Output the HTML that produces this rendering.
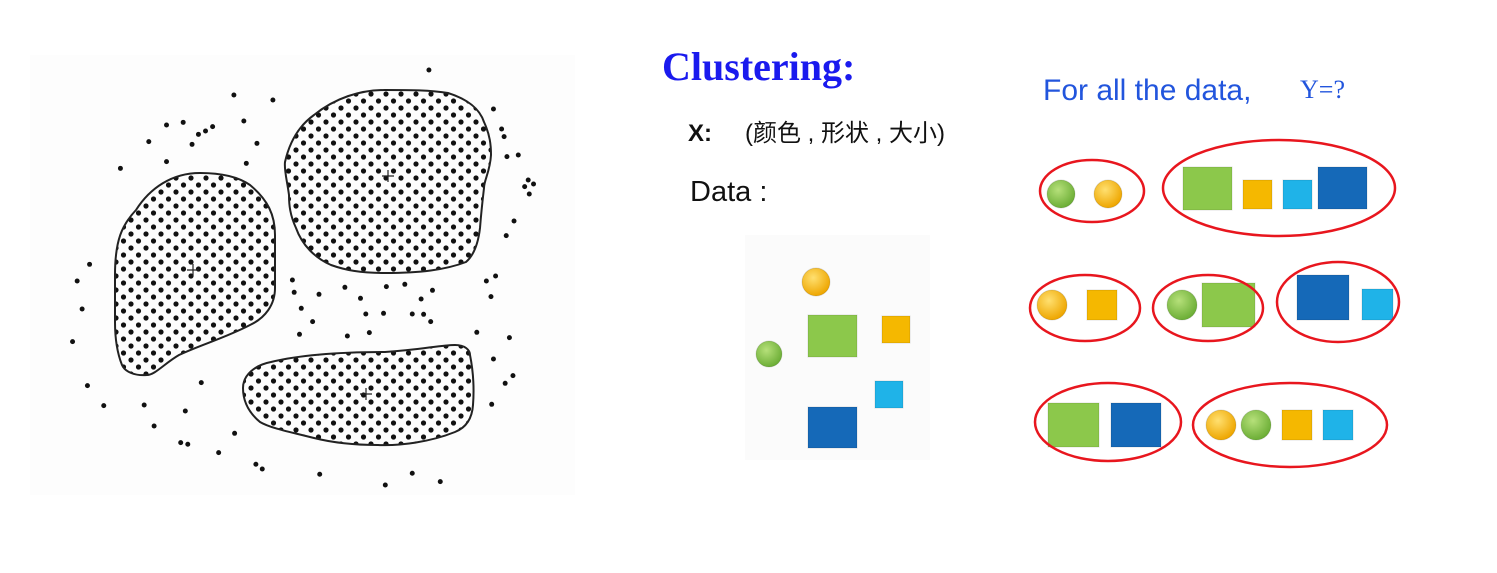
<!DOCTYPE html>
<html><head><meta charset="utf-8"><style>
html,body{margin:0;padding:0;background:#fff;}
body{width:1497px;height:573px;overflow:hidden;position:relative;}
</style></head><body>
<svg width="1497" height="573" viewBox="0 0 1497 573" xmlns="http://www.w3.org/2000/svg" style="position:absolute;left:0;top:0">
<defs>
<pattern id="dots" x="0" y="0" width="15" height="14" patternUnits="userSpaceOnUse">
<circle cx="3.5" cy="3" r="2.6" fill="#111"/>
<circle cx="11" cy="10" r="2.6" fill="#111"/>
</pattern>
<radialGradient id="gy" cx="40%" cy="35%" r="65%"><stop offset="0" stop-color="#ffe070"/><stop offset="1" stop-color="#eea600"/></radialGradient>
<radialGradient id="gg" cx="40%" cy="35%" r="65%"><stop offset="0" stop-color="#b6e07a"/><stop offset="1" stop-color="#6cae36"/></radialGradient>
</defs>
<rect x="30" y="55" width="545" height="440" fill="#fdfdfd"/>
<g stroke="#222" stroke-width="2" fill="url(#dots)">
<path d="M115,275 C115,240 122,225 136,210 C150,188 172,173 200,173 C225,173 240,178 250,185 C268,200 275,215 275,235 L275,288 C275,305 265,318 250,325 C225,338 200,345 179,355 C165,363 155,375 147,375 C135,376 125,372 122,365 C116,350 115,335 115,322 Z"/>
<path d="M285,162 C290,140 300,125 314,115 C335,98 360,90 385,90 C410,90 430,90 448,93 C470,100 480,110 484,122 C490,135 491,145 491,155 C490,172 484,180 484,188 C482,205 481,215 480,228 C478,245 473,256 466,262 C445,270 420,273 385,273 C360,273 345,270 331,265 C315,258 302,245 296,228 C290,215 289,205 289,195 C287,180 284,170 285,162 Z"/>
<path d="M243,388 C243,375 255,365 271,362 C300,355 340,352 385,352 C420,350 440,345 455,345 C465,345 470,350 470,355 C474,375 474,392 473,405 C472,420 465,428 455,432 C430,442 400,446 378,445 C350,445 330,442 314,438 C290,432 270,428 260,422 C248,412 243,400 243,388 Z"/>
</g>
<g stroke="#222" stroke-width="1.2">
<path d="M187,270 h12 M193,264 v12"/><path d="M382,176 h12 M388,170 v12"/><path d="M360,394 h12 M366,388 v12"/>
</g>
<g transform="translate(30,55) scale(0.3546,0.3333)" fill="#111">
<ellipse cx="1125" cy="45" rx="7" ry="7.5"/><ellipse cx="575" cy="120" rx="7" ry="7.5"/><ellipse cx="685" cy="135" rx="7" ry="7.5"/><ellipse cx="385" cy="210" rx="7" ry="7.5"/><ellipse cx="432" cy="202" rx="7" ry="7.5"/><ellipse cx="475" cy="238" rx="7" ry="7.5"/><ellipse cx="495" cy="228" rx="7" ry="7.5"/><ellipse cx="515" cy="215" rx="7" ry="7.5"/><ellipse cx="603" cy="198" rx="7" ry="7.5"/><ellipse cx="335" cy="260" rx="7" ry="7.5"/><ellipse cx="457" cy="268" rx="7" ry="7.5"/><ellipse cx="640" cy="265" rx="7" ry="7.5"/><ellipse cx="385" cy="320" rx="7" ry="7.5"/><ellipse cx="610" cy="325" rx="7" ry="7.5"/><ellipse cx="255" cy="340" rx="7" ry="7.5"/><ellipse cx="1307" cy="162" rx="7" ry="7.5"/><ellipse cx="1330" cy="222" rx="7" ry="7.5"/><ellipse cx="1337" cy="245" rx="7" ry="7.5"/><ellipse cx="1345" cy="305" rx="7" ry="7.5"/><ellipse cx="1377" cy="300" rx="7" ry="7.5"/><ellipse cx="1405" cy="375" rx="7" ry="7.5"/><ellipse cx="1395" cy="395" rx="7" ry="7.5"/><ellipse cx="1420" cy="387" rx="7" ry="7.5"/><ellipse cx="1408" cy="417" rx="7" ry="7.5"/><ellipse cx="1365" cy="498" rx="7" ry="7.5"/><ellipse cx="1343" cy="542" rx="7" ry="7.5"/><ellipse cx="168" cy="628" rx="7" ry="7.5"/><ellipse cx="133" cy="678" rx="7" ry="7.5"/><ellipse cx="147" cy="762" rx="7" ry="7.5"/><ellipse cx="120" cy="860" rx="7" ry="7.5"/><ellipse cx="740" cy="675" rx="7" ry="7.5"/><ellipse cx="745" cy="712" rx="7" ry="7.5"/><ellipse cx="815" cy="718" rx="7" ry="7.5"/><ellipse cx="888" cy="697" rx="7" ry="7.5"/><ellipse cx="932" cy="730" rx="7" ry="7.5"/><ellipse cx="1005" cy="695" rx="7" ry="7.5"/><ellipse cx="1057" cy="688" rx="7" ry="7.5"/><ellipse cx="1135" cy="706" rx="7" ry="7.5"/><ellipse cx="1103" cy="732" rx="7" ry="7.5"/><ellipse cx="1287" cy="678" rx="7" ry="7.5"/><ellipse cx="1313" cy="663" rx="7" ry="7.5"/><ellipse cx="1300" cy="725" rx="7" ry="7.5"/><ellipse cx="765" cy="760" rx="7" ry="7.5"/><ellipse cx="797" cy="800" rx="7" ry="7.5"/><ellipse cx="947" cy="777" rx="7" ry="7.5"/><ellipse cx="997" cy="775" rx="7" ry="7.5"/><ellipse cx="1078" cy="777" rx="7" ry="7.5"/><ellipse cx="1110" cy="778" rx="7" ry="7.5"/><ellipse cx="1130" cy="800" rx="7" ry="7.5"/><ellipse cx="760" cy="838" rx="7" ry="7.5"/><ellipse cx="895" cy="843" rx="7" ry="7.5"/><ellipse cx="957" cy="833" rx="7" ry="7.5"/><ellipse cx="1260" cy="832" rx="7" ry="7.5"/><ellipse cx="1352" cy="848" rx="7" ry="7.5"/><ellipse cx="162" cy="992" rx="7" ry="7.5"/><ellipse cx="483" cy="983" rx="7" ry="7.5"/><ellipse cx="208" cy="1052" rx="7" ry="7.5"/><ellipse cx="322" cy="1050" rx="7" ry="7.5"/><ellipse cx="438" cy="1068" rx="7" ry="7.5"/><ellipse cx="350" cy="1113" rx="7" ry="7.5"/><ellipse cx="577" cy="1135" rx="7" ry="7.5"/><ellipse cx="425" cy="1163" rx="7" ry="7.5"/><ellipse cx="445" cy="1168" rx="7" ry="7.5"/><ellipse cx="532" cy="1193" rx="7" ry="7.5"/><ellipse cx="637" cy="1228" rx="7" ry="7.5"/><ellipse cx="655" cy="1242" rx="7" ry="7.5"/><ellipse cx="817" cy="1258" rx="7" ry="7.5"/><ellipse cx="1002" cy="1290" rx="7" ry="7.5"/><ellipse cx="1078" cy="1255" rx="7" ry="7.5"/><ellipse cx="1157" cy="1280" rx="7" ry="7.5"/><ellipse cx="1307" cy="912" rx="7" ry="7.5"/><ellipse cx="1362" cy="962" rx="7" ry="7.5"/><ellipse cx="1340" cy="985" rx="7" ry="7.5"/><ellipse cx="1302" cy="1048" rx="7" ry="7.5"/>
</g>

<text x="662" y="80" font-family="Liberation Serif, serif" font-weight="bold" font-size="40" fill="#1a1aee">Clustering:</text>
<text x="688" y="141" font-family="Liberation Sans, sans-serif" font-weight="bold" font-size="24" fill="#111">X:</text>
<text x="745" y="141" font-family="Liberation Sans, 'Noto Sans CJK SC', sans-serif" font-size="24" fill="#111">(颜色 , 形状 , 大小)</text>
<text x="690" y="201" font-family="Liberation Sans, sans-serif" font-size="29" fill="#111">Data :</text>
<text x="1043" y="100" font-family="Liberation Sans, sans-serif" font-size="30" fill="#2255dd">For all the data,</text>
<text x="1300" y="98" font-family="Liberation Serif, serif" font-size="26" fill="#2255dd">Y=?</text>

<rect x="745" y="235" width="185" height="225" fill="#fbfbfb"/>
<g stroke="rgba(0,0,0,0.12)" stroke-width="1">
<circle cx="816" cy="282" r="14" fill="url(#gy)"/>
<rect x="808" y="315" width="49" height="42" fill="#8cc84b"/>
<rect x="882" y="316" width="28" height="27" fill="#f5b800"/>
<circle cx="769" cy="354" r="13" fill="url(#gg)"/>
<rect x="875" y="381" width="28" height="27" fill="#1fb3e8"/>
<rect x="808" y="407" width="49" height="41" fill="#1569b8"/>

<circle cx="1061" cy="194" r="14" fill="url(#gg)"/>
<circle cx="1108" cy="194" r="14" fill="url(#gy)"/>
<rect x="1183" y="167" width="49" height="43" fill="#8cc84b"/>
<rect x="1243" y="180" width="29" height="29" fill="#f5b800"/>
<rect x="1283" y="180" width="29" height="29" fill="#1fb3e8"/>
<rect x="1318" y="167" width="49" height="42" fill="#1569b8"/>

<circle cx="1052" cy="305" r="15" fill="url(#gy)"/>
<rect x="1087" y="290" width="30" height="30" fill="#f5b800"/>
<circle cx="1182" cy="305" r="15" fill="url(#gg)"/>
<rect x="1202" y="283" width="53" height="44" fill="#8cc84b"/>
<rect x="1297" y="275" width="52" height="45" fill="#1569b8"/>
<rect x="1362" y="289" width="31" height="31" fill="#1fb3e8"/>

<rect x="1048" y="403" width="51" height="44" fill="#8cc84b"/>
<rect x="1111" y="403" width="50" height="44" fill="#1569b8"/>
<circle cx="1221" cy="425" r="15" fill="url(#gy)"/>
<circle cx="1256" cy="425" r="15" fill="url(#gg)"/>
<rect x="1282" y="410" width="30" height="30" fill="#f5b800"/>
<rect x="1323" y="410" width="30" height="30" fill="#1fb3e8"/>
</g>
<g fill="none" stroke="#e8161e" stroke-width="2.5">
<ellipse cx="1092" cy="191" rx="52" ry="31"/>
<ellipse cx="1279" cy="188" rx="116" ry="48"/>
<ellipse cx="1085" cy="308" rx="55" ry="33"/>
<ellipse cx="1208" cy="308" rx="55" ry="33"/>
<ellipse cx="1338" cy="302" rx="61" ry="40"/>
<ellipse cx="1108" cy="422" rx="73" ry="39"/>
<ellipse cx="1290" cy="425" rx="97" ry="42"/>
</g>
</svg>
</body></html>
